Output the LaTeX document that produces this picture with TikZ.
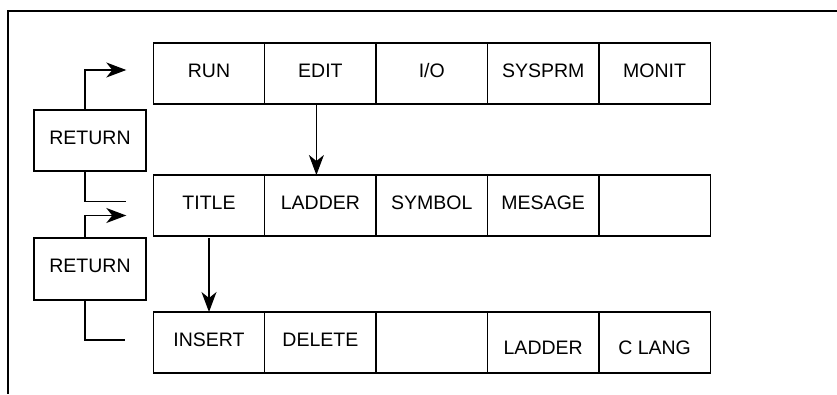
\documentclass[tikz,border=0pt]{standalone}
\usepackage{fontspec}
\setmainfont{Liberation Sans}
\usetikzlibrary{arrows.meta,positioning}

\begin{document}
\begin{tikzpicture}[
        x=1pt, y=-1pt,
        cell/.style={draw=black, fill=white, text=black, line width=1.4pt, outer sep=0pt, minimum width=111.4pt, minimum height=61pt, inner sep=0pt, font=\fontsize{19.5pt}{23pt}\selectfont, text height=14pt, text depth=7pt},
        lowcell/.style={cell, text height=23pt, text depth=0pt},
        retbox/.style={cell, minimum width=112pt},
        link/.style={line width=1.3pt},
        arrow/.style={link, -{Stealth[length=20pt, width=15pt, inset=6pt]}},
        frame/.style={line width=2.6pt}
    ]
    \useasboundingbox (0,0) rectangle (837,394);
    \draw[frame] (837,11) -- (8,11) -- (8,394);
    % top menu
    \node[cell] (run) at (209,73.5) {RUN};
    \node[cell, right=0pt of run] (edit) {EDIT};
    \node[cell, right=0pt of edit] (io) {I/O};
    \node[cell, right=0pt of io] (sysprm) {SYSPRM};
    \node[cell, right=0pt of sysprm] (monit) {MONIT};
    % edit menu
    \node[cell, below=71pt of run] (title) {TITLE};
    \node[cell, right=0pt of title] (ladder) {LADDER};
    \node[cell, right=0pt of ladder] (symbol) {SYMBOL};
    \node[cell, right=0pt of symbol] (mesage) {MESAGE};
    \node[cell, right=0pt of mesage] (blank1) {};
    % title menu
    \node[cell, below=76pt of title] (insert) {INSERT};
    \node[cell, right=0pt of insert] (delete) {DELETE};
    \node[cell, right=0pt of delete] (blank2) {};
    \node[lowcell, right=0pt of blank2] (ladder2) {LADDER};
    \node[lowcell, right=0pt of ladder2] (clang) {C LANG};
    % return keys
    \node[retbox] (ret1) at (90,140.5) {RETURN};
    \node[retbox, minimum height=62pt] (ret2) at (90,269) {RETURN};
    \coordinate (in1) at ([xshift=-27pt,yshift=3.5pt]run.west);
    \coordinate (out1) at ([xshift=-27pt,yshift=4pt]title.west);
    \coordinate (in2) at ([xshift=-27pt,yshift=-10pt]title.west);
    \coordinate (out2) at ([xshift=-28pt,yshift=2.5pt]insert.west);
    \draw[arrow] ([xshift=-5pt]ret1.north) |- (in1);
    \draw[link] ([xshift=-5pt]ret1.south) |- (out1);
    \draw[arrow] ([xshift=-5pt]ret2.north) |- (in2);
    \draw[link] ([xshift=-5pt]ret2.south) |- (out2);
    \draw[arrow] ([xshift=-4pt]edit.south) -- ([xshift=-4pt]ladder.north);
    \draw[arrow] ([yshift=-2pt]title.south) -- (insert.north);
\end{tikzpicture}
\end{document}
